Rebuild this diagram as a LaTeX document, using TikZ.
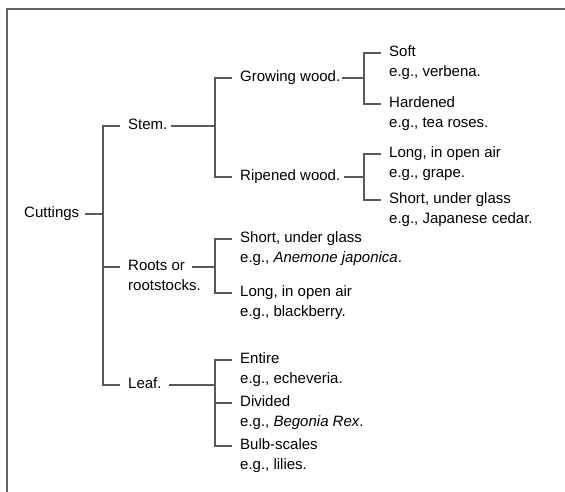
\documentclass[tikz,border=0pt]{standalone}
\usepackage{fontspec}
\setmainfont{Liberation Sans}
\usetikzlibrary{positioning}

\begin{document}
\begin{tikzpicture}[x=1pt, y=-1pt,
    term/.style={anchor=west, inner sep=0pt, text height=13.3pt, text depth=5.7pt,
                 font=\fontsize{15}{19}\selectfont},
    eg/.style={term, anchor=north west},
    wire/.style={draw=black!65, line width=1.2pt},
    frame/.style={draw=black!60, line width=1.6pt}
]
\useasboundingbox (0,0) rectangle (565,492);
\draw[frame] (7,492) -- (7,9) -- (565,9);

\node[term] (cut) at (24,214) {Cuttings};

\node[term] (stem) at (128,126) {Stem.};
\node[term] (roots) at (128,267) {Roots or};
\node[eg, below right=0pt and 0pt of roots.south west] (rootsb) {rootstocks.};
\node[term] (leaf) at (128,385) {Leaf.};

\node[term] (grow) at (240,78) {Growing wood.};
\node[term] (ripe) at (240,177) {Ripened wood.};

\node[term] (soft) at (389,53) {Soft};
\node[eg, below right=0pt and 0pt of soft.south west] (softeg) {e.g., verbena.};
\node[term] (hard) at (389,104) {Hardened};
\node[eg, below right=0pt and 0pt of hard.south west] (hardeg) {e.g., tea roses.};
\node[term] (openair) at (389,154) {Long, in open air};
\node[eg, below right=0pt and 0pt of openair.south west] (openaireg) {e.g., grape.};
\node[term] (glass) at (389,200) {Short, under glass};
\node[eg, below right=0pt and 0pt of glass.south west] (glasseg) {e.g., Japanese cedar.};

\node[term] (rshort) at (240,239) {Short, under glass};
\node[eg, below right=0pt and 0pt of rshort.south west] (rshorteg) {e.g., \textit{Anemone japonica}.};
\node[term] (rlong) at (240,293) {Long, in open air};
\node[eg, below right=0pt and 0pt of rlong.south west] (rlongeg) {e.g., blackberry.};

\node[term] (entire) at (240,360) {Entire};
\node[eg, below right=0pt and 0pt of entire.south west] (entireeg) {e.g., echeveria.};
\node[term] (divided) at (240,403) {Divided};
\node[eg, below right=0pt and 0pt of divided.south west] (dividedeg) {e.g., \textit{Begonia Rex}.};
\node[term] (bulb) at (240,446) {Bulb-scales};
\node[eg, below right=0pt and 0pt of bulb.south west] (bulbeg) {e.g., lilies.};

\draw[wire] ([xshift=6pt]cut.east) -- ([xshift=-25pt]cut.east -| stem.west);
\draw[wire] ([xshift=-8pt]stem.west) -| ([xshift=-25pt]leaf.west) -- ([xshift=-8pt]leaf.west);
\draw[wire] ([xshift=-8pt]roots.west) -- ([xshift=-25pt]roots.west);

\draw[wire] ([xshift=3pt]stem.east) -- ([xshift=-25pt]stem.east -| grow.west);
\draw[wire] ([xshift=-8pt]grow.west) -| ([xshift=-25pt]ripe.west) -- ([xshift=-8pt]ripe.west);

\draw[wire] ([xshift=2pt]grow.east) -- ([xshift=-25pt]grow.east -| soft.west);
\draw[wire] ([xshift=-8pt]soft.west) -| ([xshift=-25pt]hard.west) -- ([xshift=-8pt]hard.west);

\draw[wire] ([xshift=4pt]ripe.east) -- ([xshift=-25pt]ripe.east -| openair.west);
\draw[wire] ([xshift=-8pt]openair.west) -| ([xshift=-25pt]glass.west) -- ([xshift=-8pt]glass.west);

\draw[wire] ([xshift=7pt]roots.east) -- ([xshift=-25pt]roots.east -| rshort.west);
\draw[wire] ([xshift=-8pt]rshort.west) -| ([xshift=-25pt]rlong.west) -- ([xshift=-8pt]rlong.west);

\draw[wire] ([xshift=7pt]leaf.east) -- ([xshift=-25pt]leaf.east -| entire.west);
\draw[wire] ([xshift=-8pt]entire.west) -| ([xshift=-25pt]bulb.west) -- ([xshift=-8pt]bulb.west);
\draw[wire] ([xshift=-8pt]divided.west) -- ([xshift=-25pt]divided.west);
\end{tikzpicture}
\end{document}
